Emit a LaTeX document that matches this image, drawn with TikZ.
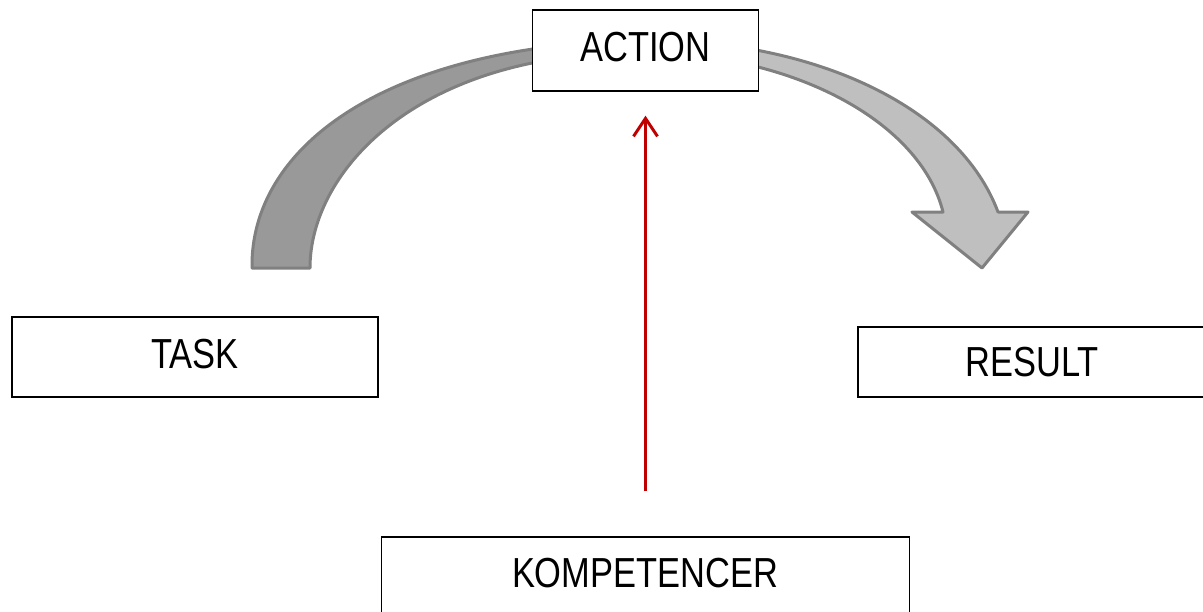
\documentclass[tikz,border=0pt]{standalone}
\usepackage{fontspec}
\setmainfont[FakeStretch=0.82]{Liberation Sans}
\usetikzlibrary{arrows.meta}
\definecolor{darkpart}{RGB}{153,153,153}
\definecolor{lightpart}{RGB}{191,191,191}
\definecolor{edgegray}{RGB}{128,128,128}
\definecolor{redarrow}{RGB}{192,0,0}
\tikzset{
  box/.style={draw=black, line width=1.4pt, fill=white, rectangle, inner sep=0pt,
    font=\fontsize{42}{50}\selectfont},
  lifted/.style={text height=30pt, text depth=8pt},
  bandedge/.style={draw=edgegray, line width=3pt, line join=round},
  redline/.style={draw=redarrow, line width=3pt, -{Straight Barb[length=18pt,width=24pt]}}
}
\begin{document}
\begin{tikzpicture}[x=1pt,y=-1pt]
\useasboundingbox (0,0) rectangle (1203,611);
% curved arrow
\fill[lightpart] (252,268) .. controls (250,150) and (380,45) .. (645,40)
  .. controls (820,40) and (960,110) .. (998,212) -- (1028,212) -- (982,268)
  -- (912,212) -- (943,212) .. controls (920,120) and (790,53) .. (645,53)
  .. controls (420,50) and (310,170) .. (310,268) -- cycle;
\fill[darkpart] (252,268) .. controls (250,150) and (380,45) .. (645,40)
  -- (645,53) .. controls (420,50) and (310,170) .. (310,268) -- cycle;
\draw[bandedge] (252,268) .. controls (250,150) and (380,45) .. (645,40)
  .. controls (820,40) and (960,110) .. (998,212) -- (1028,212) -- (982,268)
  -- (912,212) -- (943,212) .. controls (920,120) and (790,53) .. (645,53)
  .. controls (420,50) and (310,170) .. (310,268) -- cycle;
% boxes
\node[box, lifted, minimum width=226pt, minimum height=81pt] (action) at (645.5,50.5) {ACTION};
\node[box, lifted, minimum width=366pt, minimum height=80pt] (task) at (195,357) {TASK};
\node[box, minimum width=348pt, minimum height=70pt] (result) at (1032,362) {RESULT};
\node[box, minimum width=528pt, minimum height=90pt] (komp) at (645.5,582) {};
\node[font=\fontsize{42}{50}\selectfont] (komptext) at (645,573) {KOMPETENCER};
% red arrow
\draw[redline, shorten <=45pt, shorten >=24pt] (komp.north) -- (action.south);
\end{tikzpicture}
\end{document}
